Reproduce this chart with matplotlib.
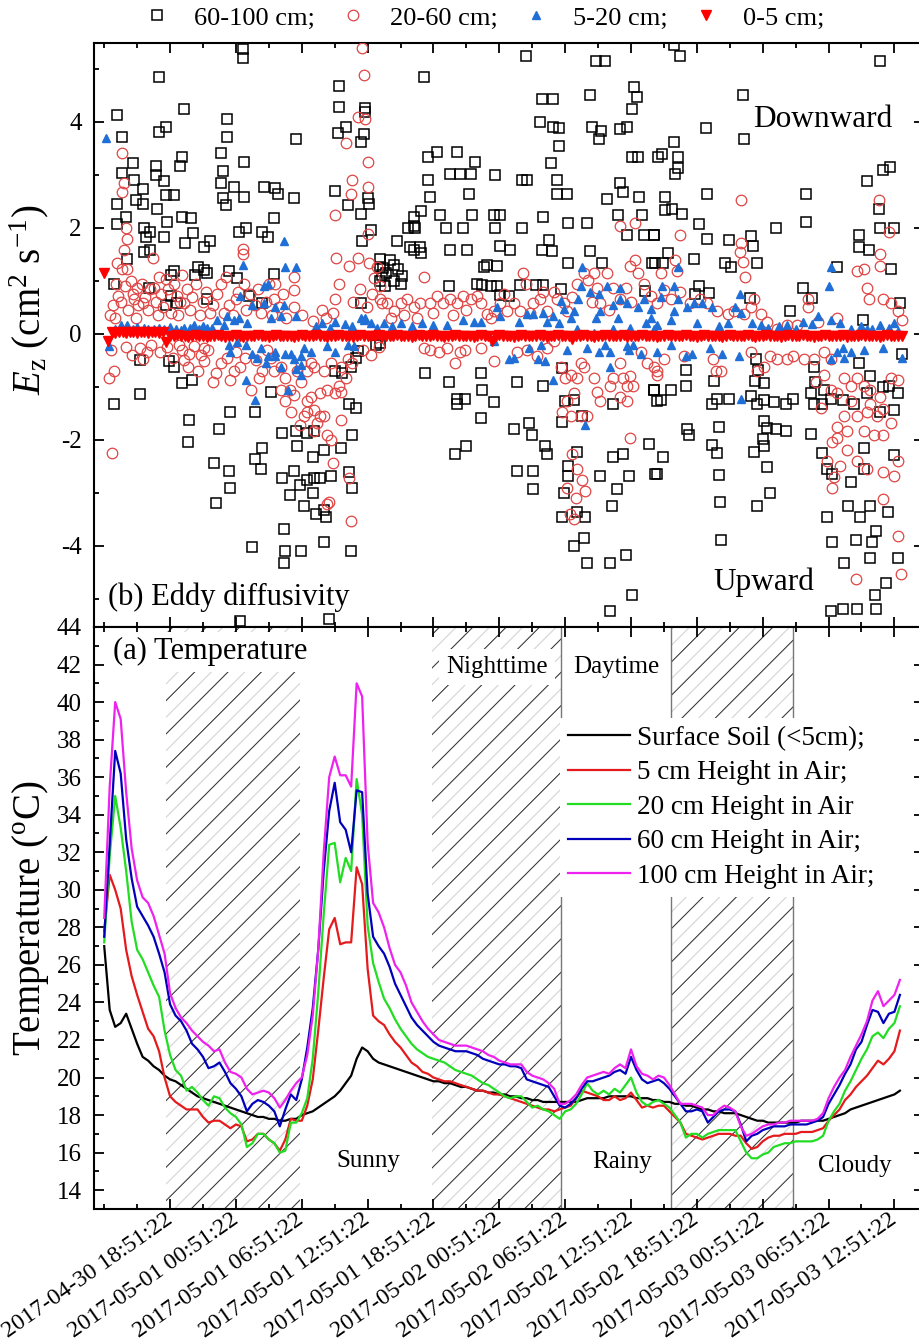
import numpy as np
import matplotlib
matplotlib.use("Agg")
import matplotlib.pyplot as plt
from matplotlib.ticker import MultipleLocator

plt.rcParams["font.family"] = ["Liberation Serif", "DejaVu Serif"]
plt.rcParams["mathtext.fontset"] = "custom"
plt.rcParams["mathtext.rm"] = "Liberation Serif"
plt.rcParams["mathtext.it"] = "Liberation Serif:italic"
plt.rcParams["axes.unicode_minus"] = False
plt.rcParams["hatch.linewidth"] = 0.7

# all times are hours after 2017-04-30 18:51:22
tick_hours = [0, 6, 12, 18, 24, 30, 36, 42, 48, 54, 60, 66]
tick_labels = ["2017-04-30 18:51:22", "2017-05-01 00:51:22", "2017-05-01 06:51:22",
               "2017-05-01 12:51:22", "2017-05-01 18:51:22", "2017-05-02 00:51:22",
               "2017-05-02 06:51:22", "2017-05-02 12:51:22", "2017-05-02 18:51:22",
               "2017-05-03 00:51:22", "2017-05-03 06:51:22", "2017-05-03 12:51:22"]

night_spans = [(-0.39, 11.85), (23.85, 35.64), (45.64, 56.73)]
divider_hours = [35.64, 45.64, 56.73]

# ---- (a) temperature, 30 min samples starting 2017-04-30 12:51:22 ----
temp_hours = np.arange(-6.0, 66.75, 0.5)

t_soil = [27.0, 23.6, 22.7, 22.9, 23.4, 22.6, 21.8, 21.1, 20.9, 20.6,
          20.4, 20.1, 19.9, 19.8, 19.6, 19.4, 19.2, 19.0, 18.9, 18.8,
          18.7, 18.6, 18.5, 18.4, 18.3, 18.2, 18.1, 18.0, 17.9, 17.9,
          17.8, 17.8, 17.7, 17.7, 17.8, 17.8, 18.0, 18.1, 18.2, 18.4,
          18.6, 18.8, 19.0, 19.3, 19.7, 20.1, 21.0, 21.6, 21.4, 21.0,
          20.8, 20.7, 20.6, 20.5, 20.4, 20.3, 20.2, 20.1, 20.0, 19.9,
          19.8, 19.8, 19.7, 19.7, 19.6, 19.5, 19.5, 19.4, 19.3, 19.3,
          19.2, 19.2, 19.1, 19.1, 19.0, 19.0, 18.9, 18.9, 18.8, 18.8,
          18.7, 18.7, 18.7, 18.7, 18.7, 18.7, 18.7, 18.8, 18.9, 18.9,
          18.9, 18.9, 19.0, 19.0, 19.0, 19.0, 19.0, 18.9, 18.9, 18.9,
          18.8, 18.8, 18.7, 18.7, 18.6, 18.6, 18.5, 18.5, 18.4, 18.3,
          18.3, 18.2, 18.2, 18.1, 18.1, 18.1, 18.0, 17.9, 17.8, 17.7,
          17.7, 17.6, 17.6, 17.6, 17.6, 17.6, 17.6, 17.7, 17.7, 17.7,
          17.7, 17.7, 17.8, 17.9, 18.0, 18.1, 18.3, 18.4, 18.5, 18.6,
          18.7, 18.8, 18.9, 19.0, 19.1, 19.3]

t_5cm = [27.8, 30.8, 30.0, 29.0, 26.8, 25.4, 24.4, 23.5, 22.6, 22.2,
         21.4, 20.0, 19.0, 18.7, 18.5, 18.3, 18.3, 18.3, 17.9, 17.6,
         17.7, 17.7, 17.5, 17.3, 17.5, 17.4, 16.6, 16.7, 17.0, 17.0,
         16.7, 16.5, 16.1, 16.7, 17.8, 17.7, 17.7, 18.5, 19.9, 22.5,
         25.3, 27.9, 28.5, 27.1, 27.2, 27.2, 31.2, 30.3, 25.8, 23.3,
         23.0, 22.8, 22.3, 21.9, 21.6, 21.2, 20.8, 20.6, 20.3, 20.2,
         20.0, 19.9, 19.8, 19.8, 19.7, 19.6, 19.5, 19.4, 19.3, 19.3,
         19.2, 19.1, 19.1, 19.0, 18.9, 18.8, 18.7, 18.6, 18.5, 18.4,
         18.3, 18.3, 18.2, 18.3, 18.4, 18.5, 18.9, 19.3, 19.2, 19.1,
         19.0, 18.8, 18.8, 19.0, 18.8, 18.9, 19.2, 18.8, 18.4, 18.5,
         18.4, 18.5, 18.5, 18.2, 17.9, 17.6, 17.0, 16.9, 16.8, 16.7,
         16.8, 16.9, 17.0, 17.0, 17.0, 16.9, 16.9, 16.5, 16.2, 16.3,
         16.6, 16.8, 16.9, 16.9, 17.0, 17.0, 17.0, 17.1, 17.1, 17.1,
         17.2, 17.3, 17.7, 18.0, 18.3, 18.8, 19.1, 19.5, 19.8, 20.1,
         20.5, 20.9, 20.7, 21.0, 21.4, 22.5]

t_20cm = [27.2, 31.8, 35.0, 33.3, 31.0, 28.3, 26.8, 26.3, 25.6, 24.9,
          24.3, 22.5, 21.2, 20.4, 20.1, 19.3, 19.5, 19.2, 18.8, 18.5,
          19.0, 18.9, 18.4, 18.1, 17.9, 17.5, 16.3, 16.5, 17.0, 17.0,
          16.7, 16.5, 16.0, 16.1, 17.6, 17.6, 18.1, 18.9, 21.0, 24.5,
          28.7, 32.4, 32.5, 30.4, 31.7, 31.0, 35.9, 34.0, 28.1, 26.1,
          25.1, 24.2, 23.7, 23.1, 22.6, 22.2, 21.8, 21.5, 21.3, 21.1,
          21.0, 20.9, 20.8, 20.6, 20.4, 20.3, 20.2, 20.1, 19.9, 19.7,
          19.6, 19.4, 19.2, 19.0, 18.9, 19.0, 19.0, 18.7, 18.4, 18.5,
          18.3, 18.2, 18.0, 17.8, 18.2, 18.3, 18.6, 19.1, 19.7, 19.3,
          19.1, 19.3, 19.1, 19.4, 19.2, 19.6, 20.0, 19.2, 18.7, 18.5,
          18.7, 18.8, 18.6, 18.4, 18.0, 17.6, 16.8, 17.0, 17.0, 16.8,
          17.0, 17.1, 17.2, 17.2, 17.2, 17.2, 16.6, 16.0, 15.7, 15.7,
          15.9, 16.0, 16.3, 16.4, 16.5, 16.5, 16.6, 16.6, 16.6, 16.6,
          16.7, 16.9, 17.7, 18.2, 18.6, 19.3, 19.8, 20.4, 21.0, 21.5,
          22.2, 22.4, 22.1, 22.6, 22.9, 23.8]

t_60cm = [27.5, 32.5, 37.4, 36.2, 32.7, 30.6, 29.1, 28.6, 28.1, 27.5,
          26.6, 25.6, 23.9, 23.3, 23.0, 22.5, 21.8, 21.5, 21.1, 20.5,
          20.6, 20.8, 20.3, 19.7, 19.4, 19.0, 18.2, 18.6, 18.8, 18.7,
          18.5, 18.2, 17.4, 18.3, 19.1, 18.8, 19.9, 21.6, 23.7, 26.8,
          31.0, 34.2, 35.7, 33.6, 33.2, 32.0, 35.3, 35.2, 29.8, 27.5,
          27.0, 26.6, 25.9, 25.0, 24.4, 23.8, 23.2, 22.8, 22.5, 22.2,
          21.9, 21.7, 21.6, 21.5, 21.4, 21.4, 21.4, 21.3, 21.2, 21.0,
          20.9, 20.8, 20.7, 20.7, 20.6, 20.6, 20.5, 19.9, 19.8, 19.7,
          19.6, 19.5, 19.0, 18.5, 18.4, 18.6, 18.9, 19.4, 19.8, 19.8,
          19.9, 20.0, 20.1, 20.3, 20.4, 20.2, 21.1, 20.4, 19.9, 19.7,
          19.8, 19.9, 19.7, 19.4, 19.0, 18.6, 18.2, 18.2, 18.3, 18.2,
          17.6, 17.9, 18.2, 18.3, 18.3, 18.2, 17.5, 16.6, 16.9, 17.0,
          17.2, 17.3, 17.4, 17.4, 17.4, 17.5, 17.5, 17.5, 17.5, 17.6,
          17.7, 17.9, 18.6, 19.1, 19.6, 20.2, 20.7, 21.5, 21.9, 22.8,
          23.6, 23.5, 22.9, 23.4, 23.5, 24.4]

t_100cm = [28.5, 35.5, 40.0, 39.1, 35.2, 32.2, 30.5, 29.6, 29.3, 28.6,
           27.6, 26.6, 24.5, 23.7, 23.2, 22.9, 22.5, 22.2, 21.9, 21.7,
           21.4, 21.5, 20.8, 20.3, 20.2, 20.0, 19.4, 19.1, 19.2, 19.3,
           19.2, 18.9, 18.4, 18.8, 19.3, 19.7, 20.0, 21.2, 23.3, 26.8,
           32.0, 36.0, 37.1, 36.1, 36.1, 35.5, 41.0, 40.3, 32.5, 29.3,
           28.8, 28.0, 26.9, 26.0, 25.6, 24.9, 24.0, 23.5, 23.0, 22.6,
           22.3, 22.0, 21.9, 21.8, 21.7, 21.7, 21.7, 21.6, 21.5, 21.4,
           21.2, 21.1, 20.9, 20.8, 20.7, 20.7, 20.7, 20.3, 20.1, 20.0,
           19.9, 19.7, 19.4, 18.6, 18.6, 18.8, 19.1, 19.6, 20.0, 20.1,
           20.2, 20.3, 20.2, 20.5, 20.7, 20.5, 21.5, 20.6, 20.2, 20.1,
           19.9, 20.1, 20.0, 19.6, 19.1, 18.6, 18.6, 18.6, 18.5, 18.4,
           18.0, 18.0, 18.3, 18.5, 18.4, 18.2, 17.4, 16.9, 17.0, 17.2,
           17.4, 17.5, 17.5, 17.6, 17.6, 17.7, 17.7, 17.7, 17.7, 17.7,
           17.8, 18.1, 18.9, 19.5, 20.0, 20.4, 21.1, 21.7, 22.3, 23.0,
           24.1, 24.6, 23.8, 24.1, 24.4, 25.2]

# ---- (b) eddy diffusivity, (hour, Ez) ----
ez_60_100 = [
    (6.6, 5.37), (6.6, 5.21), (-1.0, 4.84), (15.4, 4.68), (-4.8, 4.13), (1.3, 4.24), (5.2, 4.05),
    (15.4, 4.29), (17.8, 4.27), (17.8, 4.19), (-4.35, 3.72), (-1.0, 3.81), (-0.4, 3.90), (5.2, 3.72),
    (11.5, 3.67), (15.3, 3.79), (16.0, 3.90), (17.4, 3.63), (17.7, 3.78), (-3.4, 3.22), (-1.3, 3.17),
    (1.1, 3.34), (0.9, 3.17), (4.6, 3.41), (6.7, 3.24), (-4.35, 3.03), (-3.3, 2.91), (-1.3, 3.0),
    (-0.55, 2.89), (4.8, 3.07), (4.6, 2.84), (-4.8, 2.46), (-2.5, 2.73), (-3.1, 2.53), (-2.5, 2.46),
    (-1.2, 2.36), (-0.4, 2.63), (0.36, 2.63), (4.8, 2.57), (5.1, 2.44), (5.8, 2.77), (6.7, 2.58),
    (8.6, 2.77), (9.6, 2.75), (9.8, 2.64), (11.3, 2.56), (15.0, 2.69), (16.2, 2.44), (17.4, 2.27),
    (18.0, 2.57), (18.1, 2.46), (-4.0, 2.21), (-4.8, 2.07), (-0.25, 2.11), (1.1, 2.20), (1.9, 2.18),
    (6.3, 1.93), (6.9, 2.0), (8.4, 1.93), (9.5, 2.18), (8.9, 1.82), (-2.4, 2.0), (-2.2, 1.82),
    (-1.8, 1.93), (-0.55, 1.82), (-2.4, 1.54), (-1.8, 1.59), (1.4, 1.72), (2.1, 1.91), (3.1, 1.65),
    (3.6, 1.75), (17.5, 1.75), (18.3, 1.97), (19.1, 1.42), (-3.9, 1.42), (2.5, 1.26), (2.3, 1.11),
    (3.1, 1.21), (3.4, 1.15), (0.36, 1.19), (0.06, 1.11), (5.4, 1.19), (6.1, 1.06), (9.5, 1.14),
    (19.1, 1.26), (19.3, 1.11), (-5.1, 0.94), (-1.9, 0.87), (0.06, 0.72), (-0.4, 0.55), (0.67, 0.58),
    (3.4, 0.65), (7.2, 0.72), (8.4, 0.58), (17.4, 0.58), (18.8, -0.20), (16.9, -0.45), (17.1, -0.33),
    (16.5, -0.62), (-2.7, -0.50), (-0.1, -0.52), (0.36, -0.62), (15.0, -0.70), (15.7, -0.73),
    (-5.1, -1.32), (-2.7, -1.14), (1.1, -0.92), (2.0, -0.87), (9.2, -1.09), (5.5, -1.48), (7.7, -1.48),
    (1.7, -1.62), (1.6, -2.03), (4.5, -1.80), (10.2, -1.87), (11.5, -1.83), (11.6, -2.11), (12.5, -1.87),
    (13.1, -1.83), (13.0, -2.33), (14.0, -2.19), (15.6, -2.15), (16.3, -1.32), (16.9, -1.39),
    (16.6, -1.90), (7.7, -2.36), (8.4, -2.15), (8.3, -2.54), (4.0, -2.43), (5.4, -2.58), (5.5, -2.90),
    (10.2, -2.72), (11.3, -2.58), (10.9, -3.04), (11.8, -2.86), (12.5, -2.75), (12.2, -3.25),
    (13.1, -2.72), (13.0, -3.0), (13.7, -2.72), (14.7, -2.68), (16.3, -2.61), (16.6, -2.90),
    (13.3, -3.39), (14.0, -3.32), (14.2, -3.46), (4.2, -3.19), (10.4, -3.68), (7.5, -4.03),
    (10.5, -4.10), (11.9, -4.10), (14.0, -3.92), (16.5, -4.10), (10.4, -4.32), (14.5, -5.38), (6.4, -5.42),
    (32.4, 5.25), (38.8, 5.16), (39.6, 5.16), (23.1, 4.84), (33.9, 4.44), (34.9, 4.44), (38.3, 4.50),
    (42.3, 4.66), (42.5, 4.47), (42.1, 4.25), (33.7, 4.0), (34.9, 3.90), (35.4, 3.88), (38.4, 3.90),
    (39.3, 3.83), (39.1, 3.67), (41.0, 3.86), (41.6, 3.90), (35.4, 3.55), (34.7, 3.22), (23.5, 3.34),
    (24.3, 3.43), (26.1, 3.43), (27.8, 3.24), (42.1, 3.34), (42.6, 3.34), (44.5, 3.34), (23.5, 2.91),
    (25.5, 3.01), (26.4, 3.01), (27.4, 3.01), (29.6, 3.0), (32.1, 2.91), (32.5, 2.91), (35.3, 2.91),
    (35.3, 2.65), (36.2, 2.65), (23.7, 2.58), (27.2, 2.65), (41.0, 2.85), (41.3, 2.68), (39.8, 2.55),
    (42.7, 2.58), (22.9, 2.32), (22.2, 2.21), (22.3, 2.0), (24.6, 2.25), (25.1, 2.0), (26.7, 2.0),
    (27.5, 2.25), (29.5, 2.25), (30.1, 2.25), (29.6, 2.0), (32.1, 2.0), (34.0, 2.21), (36.3, 2.09),
    (38.0, 2.09), (40.8, 2.25), (43.0, 2.25), (41.6, 1.87), (43.2, 1.87), (44.1, 1.87), (20.7, 1.75),
    (21.7, 2.0), (22.2, 2.04), (21.9, 1.65), (22.8, 1.65), (22.2, 1.58), (22.9, 1.52), (25.5, 1.58),
    (27.1, 1.58), (30.1, 1.66), (31.0, 1.59), (33.9, 1.58), (34.5, 1.77), (34.8, 1.56), (38.3, 1.56),
    (36.3, 1.33), (39.4, 1.33), (43.9, 1.33), (20.0, 1.40), (20.4, 1.30), (20.8, 1.22), (19.4, 1.25),
    (19.7, 1.15), (21.1, 1.10), (20.4, 1.0), (21.0, 0.95), (19.6, 0.9), (19.1, 1.0), (28.9, 1.31),
    (29.8, 1.29), (28.6, 1.26), (28.0, 0.94), (28.4, 0.92), (29.8, 0.9), (29.2, 0.9), (25.4, 0.9),
    (31.9, 0.92), (33.3, 0.92), (34.0, 0.92), (30.9, 0.72), (30.1, 0.74), (35.6, 0.85), (43.3, 0.81),
    (19.1, -0.18), (23.2, -0.73), (25.4, -0.91), (28.3, -0.73), (31.6, -0.91), (34.0, -0.98),
    (35.7, -0.64), (26.1, -1.23), (26.9, -1.23), (26.1, -1.32), (28.4, -1.06), (29.5, -1.28),
    (28.3, -1.58), (36.0, -1.26), (36.8, -1.25), (35.7, -1.67), (40.4, -1.32), (37.5, -1.55),
    (44.1, -1.05), (44.4, -1.26), (31.3, -1.80), (32.7, -1.69), (33.0, -1.90), (34.2, -2.11),
    (34.3, -2.26), (26.0, -2.26), (27.0, -2.11), (37.1, -2.22), (40.4, -2.33), (41.3, -2.26),
    (43.6, -2.08), (31.6, -2.58), (33.1, -2.58), (36.3, -2.68), (36.3, -2.5), (39.2, -2.68),
    (40.7, -2.93), (41.8, -2.68), (33.1, -2.93), (35.9, -3.0), (44.2, -2.65), (40.3, -3.25),
    (35.7, -3.45), (37.1, -3.36), (37.8, -3.45), (36.8, -4.0), (37.7, -3.85), (38.0, -4.33),
    (40.1, -4.33), (41.5, -4.17), (42.1, -4.92), (40.1, -5.22),
    (46.5, 5.25), (64.7, 5.16), (52.2, 4.5), (48.8, 3.88), (52.3, 3.67), (45.9, 3.62), (44.8, 3.39),
    (46.3, 3.34), (46.3, 3.14), (46.0, 3.01), (48.9, 2.65), (57.9, 2.65), (65.0, 3.10), (65.6, 3.15),
    (63.5, 2.89), (64.6, 2.36), (45.1, 2.58), (45.1, 2.34), (45.7, 2.36), (46.6, 2.27), (48.2, 2.07),
    (48.9, 1.79), (55.2, 2.0), (57.9, 2.11), (62.8, 1.87), (64.7, 2.0), (66.0, 2.0), (44.1, 1.87),
    (50.9, 1.77), (52.9, 1.84), (53.1, 1.66), (62.8, 1.65), (63.7, 1.59), (65.7, 1.22), (45.4, 1.52),
    (44.2, 1.33), (44.9, 1.33), (47.7, 1.42), (50.6, 1.33), (51.1, 1.26), (53.5, 1.33), (60.8, 1.26),
    (48.2, 0.9), (49.1, 0.78), (47.8, 0.76), (57.7, 0.87), (58.5, 0.67), (52.8, 0.67), (56.5, 0.44),
    (66.5, 0.58), (63.1, 0.26), (66.7, -0.38), (53.4, -0.48), (53.6, -0.68), (58.7, -0.62),
    (58.8, -0.91), (59.6, -1.05), (47.0, -0.68), (62.8, -0.55), (63.8, -0.80), (65.5, -0.98),
    (49.6, -0.89), (53.3, -0.89), (54.1, -0.92), (44.1, -1.05), (44.7, -1.25), (45.6, -1.05),
    (47.0, -0.99), (49.8, -1.23), (50.9, -1.23), (49.4, -1.32), (52.9, -1.18), (53.5, -1.32),
    (54.1, -1.25), (55.0, -1.28), (56.1, -1.32), (56.8, -1.23), (58.4, -1.12), (58.7, -1.32),
    (59.4, -1.32), (60.2, -1.23), (61.3, -1.25), (62.3, -1.32), (63.5, -1.12), (65.0, -1.01),
    (66.3, -1.12), (64.7, -1.48), (66.0, -1.44), (47.1, -1.80), (47.3, -1.90), (50.0, -1.76),
    (54.1, -1.65), (54.4, -1.77), (55.2, -1.80), (56.1, -1.83), (58.4, -1.89), (49.4, -2.10),
    (49.8, -2.24), (54.0, -1.99), (54.1, -2.11), (53.2, -2.22), (44.9, -2.33), (44.4, -2.65),
    (59.4, -2.24), (59.9, -2.54), (60.3, -2.65), (63.2, -2.15), (63.2, -2.54), (62.0, -2.79),
    (66.0, -2.29), (54.4, -2.51), (50.0, -2.67), (50.1, -3.17), (53.5, -3.25), (54.7, -3.0),
    (59.9, -3.45), (61.8, -3.25), (62.9, -3.45), (63.8, -3.25), (65.4, -3.36), (50.2, -3.89),
    (60.3, -3.92), (62.5, -3.89), (64.0, -3.92), (64.3, -3.71), (61.4, -4.33), (63.8, -4.23),
    (66.3, -4.23), (65.2, -4.70), (64.2, -4.92), (60.2, -5.22), (61.3, -5.20), (62.6, -5.20),
    (64.3, -5.20), (45.9, 5.46),
]

ez_20_60 = [
    (17.5, 5.39), (17.7, 4.88), (17.8, 4.06), (17.1, 4.10), (16.0, 3.60), (16.6, 2.91), (18.0, 3.24),
    (16.5, 2.64), (15.0, 2.25), (18.0, 2.78), (18.0, 1.89), (-4.35, 3.42), (-4.2, 2.85), (-4.35, 2.68),
    (-4.0, 2.0), (-3.9, 1.79), (-4.2, 1.58), (-4.8, 1.33), (-4.35, 1.22), (-3.9, 1.23), (-4.7, 0.72),
    (-5.0, 0.30), (-5.1, -0.70), (-5.6, -0.84), (-5.3, -2.24), (-1.6, 1.43), (-1.0, 1.08), (-0.4, 1.04),
    (-1.5, 0.87), (-3.0, 0.87), (-3.3, 0.65), (-2.5, 0.58), (1.1, 1.11), (0.67, 0.72), (1.3, 0.58),
    (5.1, 1.08), (6.0, 0.65), (6.6, 1.61), (6.6, 1.50), (6.7, 0.94), (11.3, 1.08), (11.3, 0.83),
    (11.3, 0.50), (9.6, 0.94), (9.5, 0.65), (15.1, 1.43), (15.4, 0.94), (16.3, 1.29), (17.1, 1.43),
    (18.1, 1.33), (18.9, 1.26), (19.1, 0.90), (19.3, 0.58), (15.0, 0.65), (14.8, 0.40),
    (-2.7, -0.27), (-2.5, -0.48), (-2.1, -0.34), (1.1, -0.31), (1.7, -0.38), (2.2, -0.23), (3.1, -0.27),
    (1.6, -0.62), (2.5, -0.70), (3.1, -0.52), (4.2, -0.73), (3.9, -0.91), (5.5, -0.87), (5.8, -0.70),
    (5.2, -0.45), (6.4, -0.62), (7.4, -1.05), (8.1, -0.84), (8.4, -0.70), (9.5, -0.70), (10.1, -0.62),
    (10.5, -0.84), (10.9, -1.05), (10.1, -1.05), (10.5, -1.26), (11.0, -1.48), (11.3, -1.16),
    (11.6, -0.70), (11.9, -0.91), (12.5, -0.70), (12.8, -1.19), (12.5, -1.48), (13.1, -1.44),
    (13.4, -1.69), (14.0, -1.55), (13.7, -1.12), (14.3, -1.05), (15.0, -1.12), (15.6, -1.09),
    (14.3, -1.90), (14.7, -2.01), (14.8, -2.43), (15.6, -1.62), (16.3, -2.72), (16.5, -3.53),
    (14.3, -3.21), (14.5, -3.18), (11.9, -0.55), (12.8, -0.55), (13.1, -0.62), (14.0, -0.70),
    (14.7, -0.55), (15.6, -0.62), (16.2, -0.48), (12.5, -1.26), (11.8, -1.72), (12.2, -1.55),
    (13.1, -1.83), (13.7, -1.55), (15.4, -0.98), (16.0, -0.84), (16.6, -0.55),
    (-5.5, 0.35), (-5.2, 0.55), (-4.9, 0.95), (-4.5, 0.6), (-4.1, 0.9), (-3.8, 0.45), (-3.6, 1.0),
    (-3.4, 0.75), (-3.1, 0.3), (-2.9, 0.55), (-2.6, 0.95), (-2.3, 0.7), (-2.0, 0.45), (-1.8, 0.85),
    (-1.3, 0.6), (-1.1, 0.35), (-0.8, 0.75), (-0.6, 0.5), (-0.2, 0.85), (0.1, 0.4), (0.4, 0.95),
    (0.7, 0.35), (0.9, 0.6), (1.5, 0.85), (1.8, 0.45), (2.0, 0.7), (2.4, 0.95), (2.7, 0.35), (3.0, 0.6),
    (3.3, 0.8), (3.6, 0.4), (3.9, 0.55), (4.3, 0.75), (4.6, 0.95), (4.9, 0.4), (5.4, 0.55), (5.7, 0.35),
    (6.2, 0.8), (6.9, 0.45), (7.3, 0.75), (7.7, 0.55), (8.0, 0.85), (8.3, 0.4), (8.7, 0.6), (9.0, 0.95),
    (9.3, 0.35), (9.9, 0.5), (10.3, 0.75), (10.6, 0.3), (12.0, 0.35), (13.0, 0.25), (13.8, 0.45),
    (14.2, 0.3), (16.7, 0.6), (17.3, 0.85), (17.9, 0.5), (18.4, 0.75), (18.6, 1.05),
    (-5.4, -0.3), (-4.0, -0.25), (-3.5, -0.4), (-1.7, -0.2), (-0.9, -0.35), (-0.3, -0.25), (0.3, -0.45),
    (0.8, -0.2), (1.3, -0.5), (2.8, -0.4), (3.5, -0.3), (4.6, -0.55), (6.0, -0.35), (6.8, -0.45),
    (7.8, -0.5), (8.8, -0.3), (9.2, -0.45), (17.6, -0.3), (18.3, -0.4), (19.0, -0.25),
    (19.1, 0.65), (19.8, 0.58), (20.4, 0.44), (21.0, 0.58), (21.6, 0.65), (22.2, 0.51), (22.8, 0.58),
    (23.1, 1.08), (23.7, 0.58), (24.3, 0.72), (24.9, 0.58), (25.5, 0.65), (26.1, 0.58), (26.7, 0.72),
    (27.4, 0.65), (28.0, 0.72), (28.3, 0.58), (28.9, 0.37), (29.5, 0.44), (30.1, 0.58), (30.7, 0.44),
    (31.3, 0.58), (31.9, 0.44), (32.2, 1.15), (32.4, 0.94), (33.1, 0.58), (33.7, 0.65), (34.3, 0.44),
    (35.0, 0.79), (35.3, 0.65), (35.9, 0.58), (36.2, 0.44), (37.1, 0.94), (37.7, 1.15), (38.1, 1.01),
    (38.6, 1.15), (38.9, 0.87), (39.2, 0.58), (39.8, 1.15), (40.4, 0.87), (41.0, 0.65), (41.5, 0.87),
    (41.9, 1.29), (42.4, 1.40), (42.6, 1.15), (43.2, 0.94), (43.8, 0.72), (44.4, 0.58), (41.0, 2.04),
    (42.4, 2.09), (23.1, -0.27), (23.7, -0.31), (24.5, -0.34), (25.2, -0.27), (26.0, -0.55),
    (26.4, -0.34), (26.9, -0.31), (28.3, -0.27), (29.5, -0.52), (31.6, -0.34), (32.5, -0.31),
    (33.4, -0.41), (34.3, -0.27), (35.0, -0.13), (35.6, -0.62), (36.0, -0.84), (36.5, -0.77),
    (37.1, -0.84), (36.2, -1.26), (36.5, -1.55), (37.4, -1.55), (38.0, -1.55), (35.7, -1.48),
    (36.8, -1.12), (37.7, -0.62), (38.6, -0.84), (38.9, -1.09), (39.2, -1.26), (40.1, -0.98),
    (40.4, -0.84), (41.0, -0.55), (41.3, -0.84), (41.6, -0.98), (41.9, -0.80), (42.2, -0.98),
    (41.0, -1.19), (41.6, -1.26), (41.9, -1.97), (36.6, -2.26), (37.1, -2.54), (37.5, -2.75),
    (37.8, -2.97), (36.8, -3.50), (36.4, -3.4), (37.0, -3.1), (36.2, -2.9), (37.4, -0.55),
    (42.9, -0.34), (43.5, -0.55), (44.1, -0.62), (44.4, -0.77),
    (20.1, 0.3), (21.3, 0.35), (22.5, 0.3), (24.0, 0.4), (25.8, 0.35), (27.0, 0.45), (29.2, 0.3),
    (30.4, 0.75), (32.8, 0.4), (34.0, 0.8), (36.6, 0.7), (38.4, 0.6), (40.0, 0.45), (42.0, 0.6),
    (52.0, 2.53), (46.5, 1.86), (52.0, 1.72), (51.9, 1.54), (52.2, 1.36), (52.4, 1.08), (46.0, 1.40),
    (46.2, 1.19), (44.7, 1.15), (45.0, 0.83), (45.6, 0.65), (46.5, 0.79), (47.4, 0.58), (48.3, 0.65),
    (48.9, 0.58), (49.8, 0.44), (50.8, 0.37), (51.4, 0.44), (52.3, 0.37), (52.9, 0.51), (53.2, 0.65),
    (53.8, 0.37), (54.4, 0.23), (55.3, 0.09), (56.2, 0.16), (57.1, 0.16), (58.1, 0.65), (58.1, 0.51),
    (59.0, 0.23), (60.8, 0.30), (62.6, 1.19), (63.2, 1.22), (63.5, 0.87), (63.7, 0.65), (64.7, 1.50),
    (64.7, 1.29), (64.6, 2.53), (65.5, 1.93), (65.0, 0.65), (65.7, 0.58), (66.3, 0.44), (66.7, 0.26),
    (44.4, -0.70), (45.0, -0.48), (46.8, -0.41), (49.5, -0.48), (49.7, -0.70), (50.2, -0.70),
    (52.9, -0.34), (53.5, -0.70), (54.1, -0.62), (54.7, -0.41), (55.3, -0.48), (56.2, -0.48),
    (56.8, -0.41), (57.8, -0.48), (58.7, -0.48), (59.6, -0.34), (60.2, -0.48), (59.6, -0.77),
    (60.2, -1.05), (60.8, -1.12), (61.4, -0.84), (62.0, -0.98), (62.6, -0.84), (63.2, -0.98),
    (62.0, -1.26), (62.6, -1.55), (63.5, -1.48), (61.4, -1.55), (61.7, -1.83), (60.8, -1.76),
    (60.3, -2.04), (60.8, -1.97), (61.7, -2.19), (62.6, -2.40), (63.5, -2.54), (64.1, -1.90),
    (65.0, -1.90), (65.7, -1.69), (66.3, -2.40), (66.0, -2.68), (65.0, -2.61), (65.0, -3.11),
    (60.3, -2.90), (66.3, -3.82), (66.6, -4.53), (62.5, -4.63), (63.8, -1.33), (65.0, -1.41),
    (65.7, -0.84), (66.3, -0.87), (64.7, -1.19), (63.8, -1.05), (63.2, -1.83), (64.4, -1.55),
    (59.3, -1.4), (59.9, -2.4), (60.5, -2.7), (61.0, -2.5), (58.9, -0.9),
]

ez_5_20 = [
    (-5.8, 3.70), (10.4, 1.75), (6.6, 1.31), (10.5, 1.26), (11.5, 1.27), (8.6, 0.90), (8.9, 0.94),
    (6.4, 0.72), (7.5, 0.55), (8.6, 0.58), (9.6, 0.51), (10.4, 0.55), (11.5, 0.33), (10.1, 0.33),
    (9.2, 0.30), (5.2, 0.33), (5.8, 0.26), (4.9, 0.16), (4.3, 0.26), (15.0, 0.23), (15.9, 0.19),
    (17.4, 0.30), (17.7, 0.26), (17.8, 0.30), (-4.5, 0.16), (-3.9, 0.16), (-2.4, 0.12), (-1.5, 0.09),
    (-0.55, 0.09), (1.3, 0.12), (2.2, 0.16), (3.4, 0.12), (-5.6, -0.23), (5.4, -0.20), (5.5, -0.34),
    (6.1, -0.16), (6.9, -0.20), (7.5, -0.38), (8.3, -0.27), (8.9, -0.41), (9.6, -0.34), (10.5, -0.38),
    (11.0, -0.38), (11.3, -0.48), (11.9, -0.41), (12.2, -0.27), (12.8, -0.34), (14.3, -0.23),
    (15.0, -0.34), (16.2, -0.20), (16.8, -0.23), (7.9, -0.45), (8.7, -0.55), (9.6, -0.41),
    (10.1, -0.62), (11.9, -0.59), (11.5, -0.66), (6.9, -0.87), (7.7, -1.25), (10.7, -1.05),
    (11.9, -0.77), (-5.0, 0.1), (-4.0, 0.12), (-3.4, 0.1), (-3.0, 0.14), (-2.0, 0.1), (-1.0, 0.12),
    (0.0, 0.14), (0.5, 0.1), (1.0, 0.08), (1.8, 0.12), (2.6, 0.1), (3.0, 0.15), (3.8, 0.12), (6.3, 0.3),
    (7.0, 0.2), (13.3, 0.15), (13.8, 0.2), (14.6, 0.12), (16.6, 0.15), (18.3, 0.2), (18.9, 0.12),
    (19.5, 0.2), (20.2, 0.15), (21.0, 0.2), (22.0, 0.15), (23.0, 0.2),
    (37.5, 1.26), (37.4, 0.90), (41.0, 0.87), (39.8, 0.90), (39.1, 0.76), (38.3, 0.79), (37.2, 0.65),
    (35.6, 0.62), (35.9, 0.48), (36.8, 0.44), (36.5, 0.30), (29.8, 0.51), (30.1, 0.33), (32.5, 0.37),
    (33.1, 0.37), (34.0, 0.40), (34.9, 0.33), (34.3, 0.23), (39.2, 0.44), (40.4, 0.55), (41.0, 0.65),
    (41.6, 0.58), (42.6, 0.51), (43.2, 0.65), (43.8, 0.48), (26.7, 0.26), (27.7, 0.23), (28.3, 0.23),
    (24.0, 0.16), (25.2, 0.16), (29.5, -0.13), (30.9, -0.48), (31.3, -0.45), (32.7, -0.27),
    (33.5, -0.48), (34.2, -0.52), (34.9, -0.87), (38.0, -0.27), (39.1, -0.34), (40.1, -0.34),
    (41.6, -0.23), (40.1, -0.62), (41.8, -0.31), (42.9, -0.38), (37.8, -1.72), (37.1, 0.09),
    (38.6, 0.01), (40.4, 0.09), (41.9, 0.12), (44.1, 0.09),
    (31.8, 0.22), (33.8, -0.2), (35.4, 0.2), (36.2, -0.3), (38.8, 0.3), (39.6, -0.2), (40.8, 0.3),
    (42.2, -0.2), (43.4, 0.2),
    (60.2, 1.26), (60.0, 0.90), (46.3, 1.26), (44.8, 0.90), (45.9, 0.90), (46.3, 0.65), (44.7, 0.69),
    (45.9, 0.44), (47.1, 0.51), (47.7, 0.58), (48.5, 0.58), (49.4, 0.51), (51.9, 0.76), (51.5, 0.51),
    (52.0, 0.40), (53.8, 0.16), (56.2, 0.16), (57.7, 0.23), (59.0, 0.33), (60.2, 0.26), (62.0, 0.09),
    (63.5, 0.09), (64.7, 0.16), (66.3, 0.05), (44.4, -0.34), (45.6, -0.20), (47.0, -0.41),
    (47.6, -0.38), (49.2, -0.27), (50.3, -0.38), (51.8, -0.41), (52.0, -1.23), (60.8, -0.34),
    (61.3, -0.27), (62.0, -0.34), (63.2, -0.31), (65.0, -0.27), (66.7, -0.45), (61.4, -0.45),
    (60.2, -0.48), (43.8, 0.3), (44.4, 0.16), (45.6, 0.26), (48.0, 0.2), (50.0, 0.15), (50.8, 0.2),
    (53.0, 0.2), (54.5, 0.12), (55.5, 0.15), (57.0, 0.1), (58.5, 0.18), (61.0, 0.2), (63.0, 0.15),
    (64.0, 0.1), (65.5, 0.12), (66.0, 0.2),
]

# 0-5 cm layer, 20 min samples starting 2017-04-30 12:51:22
ez_0_5 = [1.15, -0.13, 0.03, 0.02, 0.04, 0.03, 0.02, 0.03, 0.04, 0.02,
          0.03, 0.03, 0.02, 0.04, 0.03, 0.02, 0.03, -0.16, -0.03, -0.04,
          -0.02, -0.04, -0.03, -0.05, -0.03, -0.02, -0.04, -0.03, -0.05, -0.04,
          -0.03, -0.02, -0.04, -0.05, -0.03, -0.04, -0.02, -0.03, -0.05, -0.04,
          -0.03, -0.04, -0.02, -0.03, -0.04, -0.05, -0.03, -0.02, -0.04, -0.03,
          -0.04, -0.03, -0.05, -0.04, -0.02, -0.03, -0.04, -0.03, -0.02, -0.04,
          -0.03, -0.05, -0.04, -0.03, -0.02, -0.04, -0.03, -0.04, -0.05, -0.03,
          -0.02, -0.04, -0.03, -0.04, -0.03, -0.02, -0.05, -0.04, -0.03, -0.04,
          -0.02, -0.03, -0.04, -0.03, -0.05, -0.04, -0.02, -0.03, -0.04, -0.03,
          -0.02, -0.04, -0.03, -0.05, -0.04, -0.03, -0.02, -0.04, -0.03, -0.04,
          -0.03, -0.05, -0.04, -0.02, -0.03, -0.04, -0.14, -0.03, -0.02, -0.04,
          -0.03, -0.04, -0.05, -0.03, -0.02, -0.04, -0.03, -0.04, -0.03, -0.02,
          -0.04, -0.05, -0.03, -0.04, -0.02, -0.03, -0.04, -0.03, -0.09, -0.04,
          -0.03, -0.02, -0.04, -0.03, -0.05, -0.04, -0.03, -0.02, -0.04, -0.03,
          -0.04, -0.03, -0.02, -0.05, -0.04, -0.03, -0.04, -0.02, -0.03, -0.04,
          -0.03, -0.05, -0.04, -0.03, -0.02, -0.04, -0.03, -0.04, -0.03, -0.02,
          -0.04, -0.03, -0.05, -0.04, -0.02, -0.03, -0.04, -0.03, -0.04, -0.05,
          -0.03, -0.02, -0.04, -0.03, -0.04, -0.03, -0.02, -0.04, -0.05, -0.03,
          -0.04, -0.02, -0.03, -0.04, -0.03, -0.05, -0.04, -0.02, -0.03, -0.04,
          -0.03, -0.02, -0.04, -0.03, -0.05, -0.04, -0.03, -0.02, -0.04, -0.03,
          -0.04, -0.03, -0.02, -0.05, -0.04, -0.03, -0.04, -0.02, -0.03, -0.04,
          -0.03, -0.04, -0.05, -0.03, -0.02, -0.04, -0.03, -0.04, -0.03]
ez_0_5_hours = -6.0 + np.arange(len(ez_0_5)) / 3.0

temp_series = [("Surface Soil (<5cm);", t_soil, "black"),
               ("5 cm Height in Air;", t_5cm, "#e41a1c"),
               ("20 cm Height in Air", t_20cm, "#22dd22"),
               ("60 cm Height in Air;", t_60cm, "#0000bb"),
               ("100 cm Height in Air;", t_100cm, "#ee22ee")]

fig = plt.figure(figsize=(9.19, 13.40), dpi=100)
ax_t = fig.add_axes([0.1023, 0.5321, 0.9032, 0.4358])
ax_b = fig.add_axes([0.1023, 0.0978, 0.9032, 0.4343], sharex=ax_t)

for ax in (ax_t, ax_b):
    for sp in ax.spines.values():
        sp.set_linewidth(1.5)
    ax.tick_params(which="both", direction="in", top=True, right=True, width=1.3)
    ax.tick_params(which="major", length=7.5, labelsize=18, pad=9)
    ax.tick_params(which="minor", length=3.8)
    ax.xaxis.set_minor_locator(MultipleLocator(3))
    ax.yaxis.set_minor_locator(MultipleLocator(1))

# ---------- top panel ----------
sq = np.array(ez_60_100)
ci = np.array(ez_20_60)
tr = np.array(ez_5_20)
ax_t.plot(sq[:, 0], sq[:, 1], ls="none", marker="s", ms=6.6, mfc="none", mec="black", mew=1.1,
          zorder=2, label="60-100 cm;")
ax_t.plot(ci[:, 0], ci[:, 1], ls="none", marker="o", ms=7.6, mfc="none", mec="#e04444", mew=0.9,
          zorder=3, label="20-60 cm;")
ax_t.plot(tr[:, 0], tr[:, 1], ls="none", marker="^", ms=5.8, color="#1f6fd6", mec="#1f6fd6",
          zorder=4, label="5-20 cm;")
ax_t.plot(ez_0_5_hours, ez_0_5, ls="none", marker="v", ms=7.5, color="#ff0000", mec="#ff0000",
          zorder=5, label="0-5 cm;")

ax_t.set_ylim(-5.53, 5.49)
ax_t.yaxis.set_major_locator(MultipleLocator(2))
ax_t.tick_params(axis="x", which="both", labelbottom=False)
ax_t.set_ylabel(r"$E_{\mathrm{z}}$ (cm$^{2}$ s$^{-1}$)", fontsize=28)
ax_t.yaxis.set_label_coords(-0.052, 0.56)

ax_t.text(59.5, 4.04, "Downward", fontsize=22.5, ha="center", va="center")
ax_t.text(54.1, -4.68, "Upward", fontsize=22.5, ha="center", va="center")
ax_t.text(-5.65, -4.96, "(b) Eddy diffusivity", fontsize=22, ha="left", va="center")

handles, labels = ax_t.get_legend_handles_labels()
fig.legend(handles, labels, loc="center", bbox_to_anchor=(0.527, 0.9866), ncol=4, frameon=False,
           fontsize=19, handlelength=1.0, handletextpad=0.9, columnspacing=0.95, borderpad=0)

# ---------- bottom panel ----------
for a, b in night_spans:
    ax_b.axvspan(a, b, facecolor="none", edgecolor="#cfcfcf", hatch="//", lw=0, zorder=0)
    ax_b.axvspan(a, b, facecolor="none", edgecolor="#333333", hatch="/", lw=0, zorder=0.1)
for xv in divider_hours:
    ax_b.axvline(xv, color="#777777", lw=1.0, zorder=0.2)

for name, vals, col in temp_series:
    ax_b.plot(temp_hours, vals, color=col, lw=1.6, label=name, zorder=2)

ax_b.set_ylim(13, 44)
ax_b.set_xlim(-6.93, 68.7)
ax_b.yaxis.set_major_locator(MultipleLocator(2))
ax_b.set_xticks(tick_hours)
ax_b.set_xticklabels(tick_labels, rotation=35, ha="right", va="center", rotation_mode="anchor",
                     fontsize=17.2)
ax_b.tick_params(axis="x", which="major", pad=6)
ax_b.set_ylabel(r"Temperature ($^{\mathrm{o}}$C)", fontsize=28)
ax_b.yaxis.set_label_coords(-0.052, 0.5)

box = dict(facecolor="white", edgecolor="none")
ax_b.text(-5.2, 42.67, "(a) Temperature", fontsize=22, ha="left", va="center", zorder=3,
          bbox=dict(box, pad=4))
ax_b.text(29.8, 41.87, "Nighttime", fontsize=18, ha="center", va="center", zorder=3,
          bbox=dict(box, pad=5))
ax_b.text(40.7, 41.87, "Daytime", fontsize=18, ha="center", va="center", zorder=3,
          bbox=dict(box, pad=6))
ax_b.text(18.05, 15.54, "Sunny", fontsize=18, ha="center", va="center")
ax_b.text(41.2, 15.5, "Rainy", fontsize=18, ha="center", va="center")
ax_b.text(62.35, 15.3, "Cloudy", fontsize=18, ha="center", va="center")

leg = ax_b.legend(loc="upper left", bbox_to_anchor=(0.561, 0.844), fontsize=19.5, frameon=True,
                  fancybox=False, framealpha=1, edgecolor="none", facecolor="white",
                  handlelength=2.3, handletextpad=0.25, labelspacing=0.35, borderpad=0.3,
                  borderaxespad=0)
leg.set_zorder(5)

fig.savefig("out.png", dpi=100)
